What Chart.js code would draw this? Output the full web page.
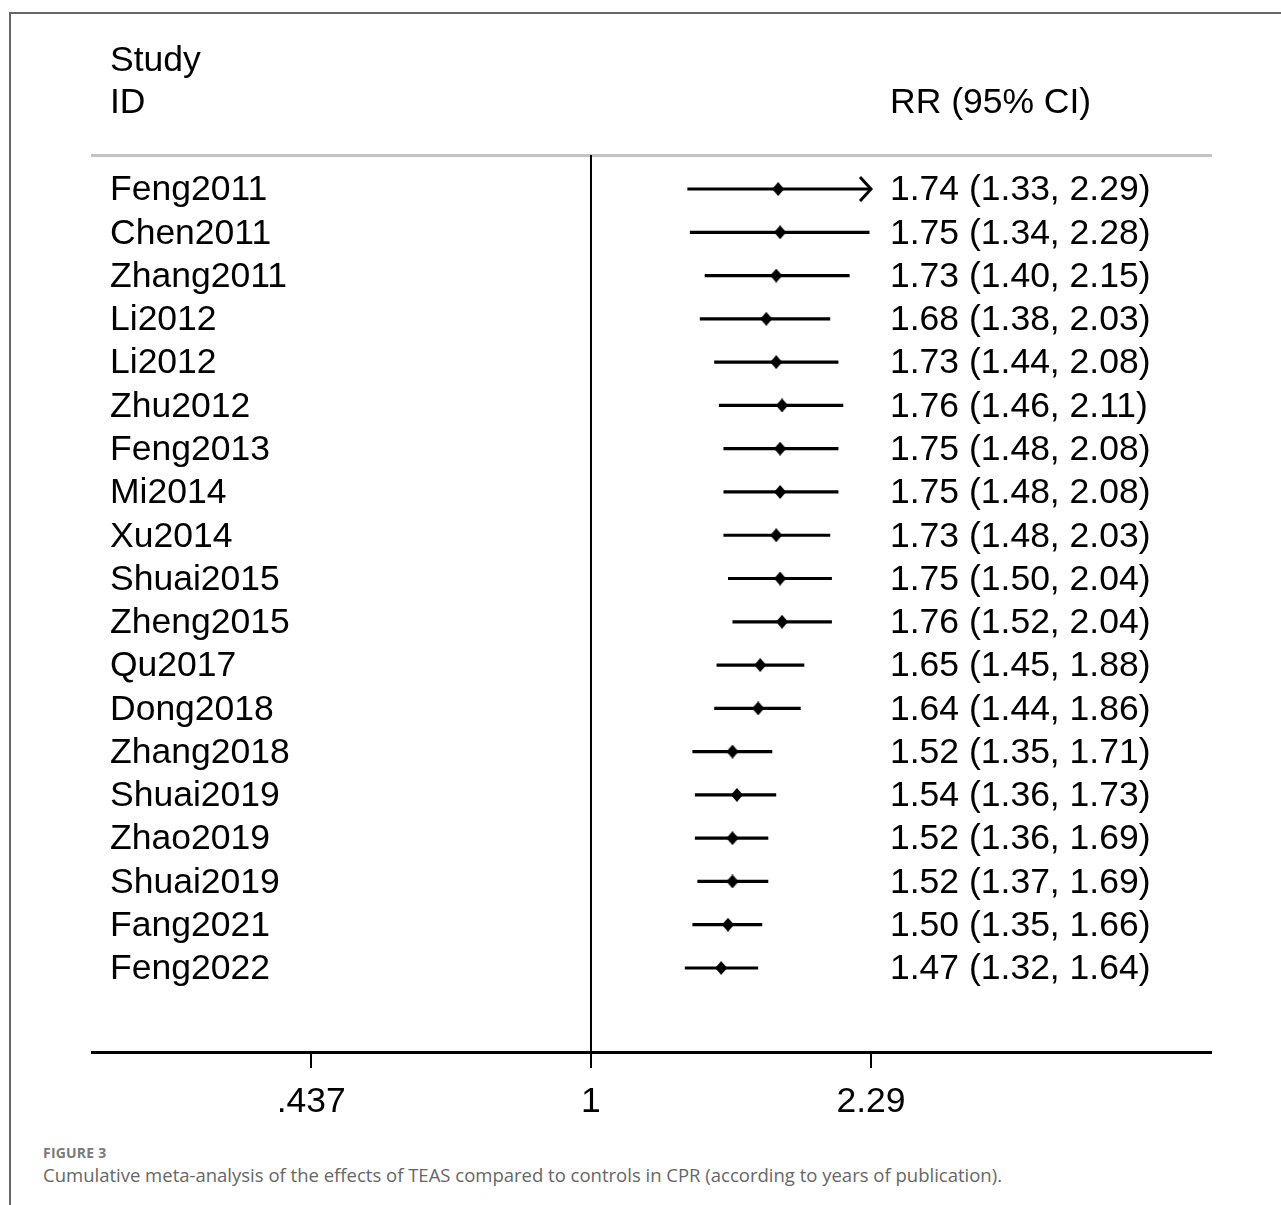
<!DOCTYPE html>
<html>
<head>
<meta charset="utf-8">
<script src="https://cdn.jsdelivr.net/npm/chart.js@4/dist/chart.umd.min.js"></script>
<style>
  html, body { margin: 0; padding: 0; background: #fff; overflow: hidden; }
  body { width: 1281px; height: 1205px; position: relative; }
  #frame { position: absolute; left: 9px; top: 12px; width: 1400px; height: 1300px;
           border-left: 2px solid #666; border-top: 2px solid #666; box-sizing: border-box; }
  #plot { position: absolute; left: 0; top: 0; }
  #figlabel { position: absolute; left: 43px; top: 1143px; font-family: "Open Sans", Lato, sans-serif;
              font-weight: 700; font-size: 14px; color: #7a7a7a; letter-spacing: 0.2px; }
  #caption { position: absolute; left: 43px; top: 1162px; font-family: "Open Sans", Lato, sans-serif;
             font-size: 18.5px; color: #666; white-space: nowrap; }
</style>
</head>
<body>
<div id="frame"></div>
<canvas id="plot" width="1281" height="1125"></canvas>
<div id="figlabel">FIGURE 3</div>
<div id="caption">Cumulative meta-analysis of the effects of TEAS compared to controls in CPR (according to years of publication).</div>
<script>
// Cumulative estimates, in order of publication year
const studies = ['Feng2011', 'Chen2011', 'Zhang2011', 'Li2012', 'Li2012', 'Zhu2012', 'Feng2013', 'Mi2014',
  'Xu2014', 'Shuai2015', 'Zheng2015', 'Qu2017', 'Dong2018', 'Zhang2018', 'Shuai2019', 'Zhao2019',
  'Shuai2019', 'Fang2021', 'Feng2022'];
const rr    = [1.74, 1.75, 1.73, 1.68, 1.73, 1.76, 1.75, 1.75, 1.73, 1.75, 1.76, 1.65, 1.64, 1.52, 1.54, 1.52, 1.52, 1.50, 1.47];
const lower = [1.33, 1.34, 1.40, 1.38, 1.44, 1.46, 1.48, 1.48, 1.48, 1.50, 1.52, 1.45, 1.44, 1.35, 1.36, 1.36, 1.37, 1.35, 1.32];
const upper = [2.29, 2.28, 2.15, 2.03, 2.08, 2.11, 2.08, 2.08, 2.03, 2.04, 2.04, 1.88, 1.86, 1.71, 1.73, 1.69, 1.69, 1.66, 1.64];

// Axis ticks (log scale)
const tickValues = [0.437, 1, 2.29];
const tickLabels = ['.437', '1', '2.29'];

const headerLeft = ['Study', 'ID'];
const headerRight = 'RR (95% CI)';

const FONT = '"Liberation Sans", Arial, sans-serif';

// Diamond marker for the point estimate
function makeDiamond() {
  const c = document.createElement('canvas');
  c.width = 12; c.height = 14;
  const g = c.getContext('2d');
  g.fillStyle = '#000';
  g.beginPath();
  g.moveTo(6, 0); g.lineTo(12, 7); g.lineTo(6, 14); g.lineTo(0, 7);
  g.closePath(); g.fill();
  return c;
}
// Open arrowhead whose tip sits at the image centre
function makeArrow() {
  const c = document.createElement('canvas');
  c.width = 28; c.height = 28;
  const g = c.getContext('2d');
  g.strokeStyle = '#000';
  g.lineWidth = 3;
  g.lineJoin = 'miter';
  g.beginPath();
  g.moveTo(3, 2); g.lineTo(14, 14); g.lineTo(3, 26);
  g.stroke();
  return c;
}

const rowMin = -0.786, rowMax = 19.941;
const xMin = 0.2284, xMax = 6.264;

const ciSets = studies.map((s, i) => ({
  label: 'ci' + i,
  data: [{ x: lower[i], y: i }, { x: upper[i], y: i }],
  showLine: true,
  borderColor: '#000',
  borderWidth: 3.2,
  pointRadius: 0,
  order: 2
}));

const arrowPts = [];
upper.forEach((u, i) => { if (u >= tickValues[tickValues.length - 1]) arrowPts.push({ x: u, y: i }); });

const datasets = [
  {
    label: 'RR',
    data: rr.map((v, i) => ({ x: v, y: i })),
    pointStyle: makeDiamond(),
    order: 0
  },
  {
    label: 'truncated',
    data: arrowPts,
    pointStyle: makeArrow(),
    order: 1
  },
  {
    label: 'null',
    data: [{ x: 1, y: rowMin }, { x: 1, y: rowMax }],
    showLine: true,
    borderColor: '#000',
    borderWidth: 2,
    pointRadius: 0,
    order: 3
  }
].concat(ciSets);

const textPlugin = {
  id: 'forestText',
  afterDraw(chart) {
    const ctx = chart.ctx;
    const y = chart.scales.y;
    ctx.save();
    ctx.fillStyle = '#000';
    ctx.font = '35.5px ' + FONT;
    ctx.textBaseline = 'middle';
    ctx.textAlign = 'left';
    ctx.fillText(headerLeft[0], 110, 61);
    ctx.fillText(headerLeft[1], 110, 103);
    ctx.fillText(headerRight, 890, 103);
    studies.forEach((s, i) => {
      const py = y.getPixelForValue(i);
      ctx.fillText(s, 110, py + 1.5);
      ctx.fillText(rr[i].toFixed(2) + ' (' + lower[i].toFixed(2) + ', ' + upper[i].toFixed(2) + ')', 890, py + 1.5);
    });
    ctx.restore();
  }
};

new Chart(document.getElementById('plot'), {
  type: 'scatter',
  data: { datasets },
  options: {
    responsive: false,
    animation: false,
    events: [],
    layout: { padding: { left: 92, right: 70, top: 155, bottom: 0 } },
    plugins: { legend: { display: false }, tooltip: { enabled: false } },
    scales: {
      x: {
        type: 'logarithmic',
        position: 'bottom',
        min: xMin,
        max: xMax,
        bounds: 'data',
        afterBuildTicks(scale) { scale.ticks = tickValues.map(v => ({ value: v })); },
        afterFit(scale) { scale.height = 73; },
        border: { display: true, color: '#000', width: 3 },
        grid: { drawOnChartArea: false, drawTicks: true, tickLength: 16, color: '#000', lineWidth: 2 },
        ticks: {
          autoSkip: false,
          maxRotation: 0,
          padding: 13,
          color: '#000',
          font: { family: FONT, size: 35.5 },
          callback(value) {
            const k = tickValues.indexOf(value);
            return k >= 0 ? tickLabels[k] : '';
          }
        }
      },
      xTop: {
        type: 'linear',
        position: 'top',
        min: 0, max: 1,
        afterFit(scale) { scale.height = 0; },
        border: { display: true, color: '#c4c4c4', width: 3 },
        grid: { display: false, drawTicks: false },
        ticks: { display: false }
      },
      y: {
        type: 'linear',
        display: false,
        reverse: true,
        min: rowMin,
        max: rowMax
      }
    }
  },
  plugins: [textPlugin]
});
</script>
</body>
</html>
